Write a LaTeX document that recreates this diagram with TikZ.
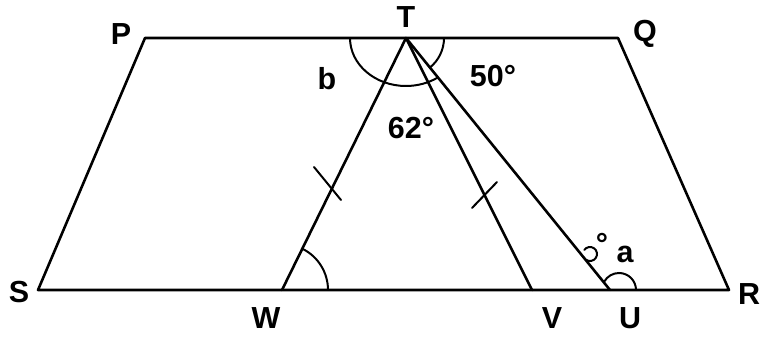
\documentclass[tikz,border=0pt]{standalone}
\usepackage{fontspec}
\setmainfont{Liberation Sans}
\usetikzlibrary{calc}
\begin{document}
\begin{tikzpicture}[x=0.03cm,y=0.03cm,
  edge/.style={line width=2.2pt, line cap=round, line join=round},
  arcline/.style={line width=1.7pt, line cap=round},
  lbl/.style={font=\fontsize{26}{28}\selectfont\bfseries, inner sep=0pt}]
\useasboundingbox (0,0) rectangle (763,338);
% points
\coordinate (P) at (145,300);
\coordinate (T) at (406,300);
\coordinate (Q) at (618,300);
\coordinate (S) at (38,48);
\coordinate (W) at (282,48);
\coordinate (V) at (532,48);
\coordinate (U) at (610,48);
\coordinate (R) at (729,48);
% figure
\draw[edge] (S) -- (P) -- (Q) -- (R) -- cycle;
\draw[edge] (W) -- (T) -- (V);
\draw[edge] (T) -- (U);
% angle arcs at T
\draw[arcline] (T) ++(-56,0) arc[start angle=180, end angle=305, x radius=56, y radius=48];
\draw[arcline] (T) ++(309:38) arc[start angle=309, end angle=360, radius=38];
% angle arc at W
\draw[arcline] (W) ++(46,0) arc[start angle=0, end angle=63.8, radius=46];
% angle arc at U
\coordinate (Uc) at (619,48);
\draw[arcline] (Uc) ++(17,0) arc[start angle=0, end angle=150, radius=17];
% small loop on TU
\coordinate (lp) at (590,84);
\draw[arcline] (lp) ++(235:7) arc[start angle=235, end angle=505, radius=7];
% equal-length ticks
\coordinate (m1) at (331,150);
\coordinate (m2) at (484,145);
\draw[arcline] ($(m1)+(-17,21)$) -- ($(m1)+(10,-12)$);
\draw[arcline] ($(m2)+(-12,-15)$) -- ($(m2)+(13,11)$);
% labels
\node[lbl] (lP) at (121,304) {P};
\node[lbl] (lT) at (406,321) {T};
\node[lbl] (lQ) at (645,304) {Q};
\node[lbl] (lS) at (19,46) {S};
\node[lbl] (lW) at (266,20) {W};
\node[lbl] (lV) at (552,20) {V};
\node[lbl] (lU) at (630,20) {U};
\node[lbl] (lR) at (749,44) {R};
\node[lbl] (lb) at (327,259) {b};
\node[lbl] (l62) at (411,210) {62°};
\node[lbl] (l50) at (493,262) {50°};
\node[lbl] (ldeg) at (602,94) {°};
\node[lbl] (la) at (625,84) {a};
\end{tikzpicture}
\end{document}
